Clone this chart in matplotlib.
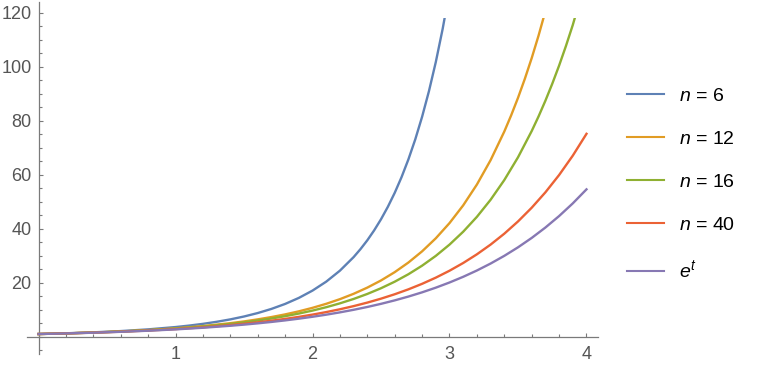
import matplotlib
matplotlib.use("Agg")
import matplotlib.pyplot as plt
from matplotlib.lines import Line2D
from matplotlib.patches import Rectangle
from matplotlib.ticker import MultipleLocator

plt.rcParams['font.family'] = ['Liberation Sans', 'DejaVu Sans']
plt.rcParams['mathtext.fontset'] = 'custom'
plt.rcParams['mathtext.it'] = 'Liberation Sans:italic'
plt.rcParams['mathtext.rm'] = 'Liberation Sans'

# values
t_a = [0, 0.2, 0.4, 0.6, 0.8, 1.0, 1.2, 1.4, 1.5, 1.6, 1.7, 1.8, 1.9, 2.0,
       2.1, 2.2, 2.3, 2.4, 2.5, 2.6, 2.7, 2.8, 2.9, 3.0, 3.1, 3.2, 3.3, 3.4,
       3.5, 3.6, 3.7, 3.8, 3.9, 4.0]

y_e = [1, 1.221, 1.492, 1.822, 2.226, 2.718, 3.320, 4.055,
       4.482, 4.953, 5.474, 6.050, 6.686, 7.389, 8.166, 9.025, 9.974, 11.023,
       12.182, 13.464, 14.880, 16.445, 18.174, 20.086, 22.198, 24.533, 27.113, 29.964,
       33.116, 36.598, 40.447, 44.701, 49.402, 54.598]

y_40 = [1, 1.228, 1.510, 1.858, 2.289, 2.824, 3.486, 4.309,
        4.793, 5.332, 5.933, 6.605, 7.354, 8.191, 9.125, 10.170, 11.336, 12.641,
        14.099, 15.730, 17.555, 19.597, 21.884, 24.446, 27.314, 30.529, 34.131, 38.170,
        42.703, 47.79, 53.492, 59.90, 67.091, 75.17]

t_16 = [0, 0.2, 0.4, 0.6, 0.8, 1.0, 1.2, 1.4, 1.5, 1.6, 1.7, 1.8, 1.9, 2.0,
        2.1, 2.2, 2.3, 2.4, 2.5, 2.6, 2.7, 2.8, 2.9, 3.0, 3.1, 3.2, 3.3, 3.4,
        3.5, 3.6, 3.65, 3.7, 3.75, 3.8, 3.85, 3.9, 4.0]
y_16 = [1, 1.238, 1.538, 1.915, 2.392, 2.996, 3.764, 4.743,
        5.331, 5.996, 6.750, 7.606, 8.577, 9.680, 10.934, 12.362, 13.989, 15.845,
        17.962, 20.381, 23.151, 26.321, 29.952, 34.12, 38.906, 44.41, 50.74, 58.04,
        66.46, 76.19, 81.60, 87.43, 93.70, 100.44, 107.71, 115.5, 133.0]

t_12 = [0, 0.2, 0.4, 0.6, 0.8, 1.0, 1.2, 1.4, 1.5, 1.6, 1.7, 1.8, 1.9, 2.0,
        2.1, 2.2, 2.3, 2.4, 2.5, 2.6, 2.7, 2.8, 2.9, 3.0, 3.1, 3.2, 3.3, 3.4,
        3.45, 3.5, 3.55, 3.6, 3.65, 3.7, 3.8]
y_12 = [1, 1.244, 1.554, 1.948, 2.452, 3.099, 3.934, 5.016,
        5.674, 6.426, 7.286, 8.271, 9.401, 10.700, 12.193, 13.914, 15.897, 18.190,
        20.842, 23.917, 27.484, 31.632, 36.460, 42.09, 48.67, 56.38, 65.41, 76.01,
        82.00, 88.49, 95.55, 103.21, 111.54, 120.6, 141.2]

t_6 = [0, 0.2, 0.4, 0.6, 0.8, 1.0, 1.1, 1.2, 1.3, 1.4, 1.5, 1.6, 1.7, 1.8,
       1.9, 2.0, 2.1, 2.2, 2.3, 2.35, 2.4, 2.45, 2.5, 2.55, 2.6, 2.65, 2.7,
       2.75, 2.8, 2.85, 2.9, 2.95, 3.0]
y_6 = [1, 1.268, 1.621, 2.091, 2.723, 3.583, 4.128, 4.768, 5.526, 6.423,
       7.492, 8.768, 10.299, 12.143, 14.374, 17.086, 20.399, 24.468, 29.486, 32.44,
       35.72, 39.40, 43.51, 48.12, 53.29, 59.12, 65.69, 73.09, 81.48, 90.97,
       101.75, 114.02, 127.99]

labels = ["$n$ = 6", "$n$ = 12", "$n$ = 16", "$n$ = 40", "$e^t$"]
colors = ["#5e81b5", "#e19c24", "#8fb032", "#eb6235", "#8778b3"]
series = [(t_6, y_6), (t_12, y_12), (t_16, y_16), (t_a, y_40), (t_a, y_e)]

W, H = 762, 370
fig = plt.figure(figsize=(W / 100, H / 100), dpi=100)
ax = fig.add_axes([27 / W, 16 / H, 571 / W, 352 / H])
ax.set_xlim(-0.084, 4.084)
ax.set_ylim(-6.4, 124)

# plot range stops at ~118, axes go a bit further
clip = Rectangle((-0.084, -6.4), 4.2, 124.4, transform=ax.transData)

for (t, y), c in zip(series, colors):
    line, = ax.plot(t, y, color=c, lw=1.7, zorder=3, solid_joinstyle='round')
    line.set_clip_path(clip)

for side in ['top', 'right']:
    ax.spines[side].set_visible(False)
for side in ['left', 'bottom']:
    ax.spines[side].set_position(('data', 0))
    ax.spines[side].set_color('#7a7a7a')
    ax.spines[side].set_linewidth(0.9)
    ax.spines[side].set_zorder(1)

ax.set_xticks([1, 2, 3, 4])
ax.xaxis.set_minor_locator(MultipleLocator(0.2))
ax.set_yticks([20, 40, 60, 80, 100, 120])
ax.yaxis.set_minor_locator(MultipleLocator(5))
ax.tick_params(which='both', direction='in', color='#7a7a7a', width=0.8,
               labelsize=13, labelcolor='#555555')
ax.tick_params(which='major', length=3.2)
ax.tick_params(which='minor', length=2)
ax.tick_params(axis='x', pad=7)
ax.tick_params(axis='y', pad=5)

# legend on the right
rows = [94, 137, 180, 223, 270.5]
for py, lab, c in zip(rows, labels, colors):
    fig.add_artist(Line2D([627 / W, 664 / W], [1 - py / H] * 2, color=c, lw=1.5))
    fig.text(679 / W, 1 - (py + 7) / H, lab, fontsize=14, va='baseline',
             ha='left', color='black')

fig.savefig("out.png", dpi=100)
